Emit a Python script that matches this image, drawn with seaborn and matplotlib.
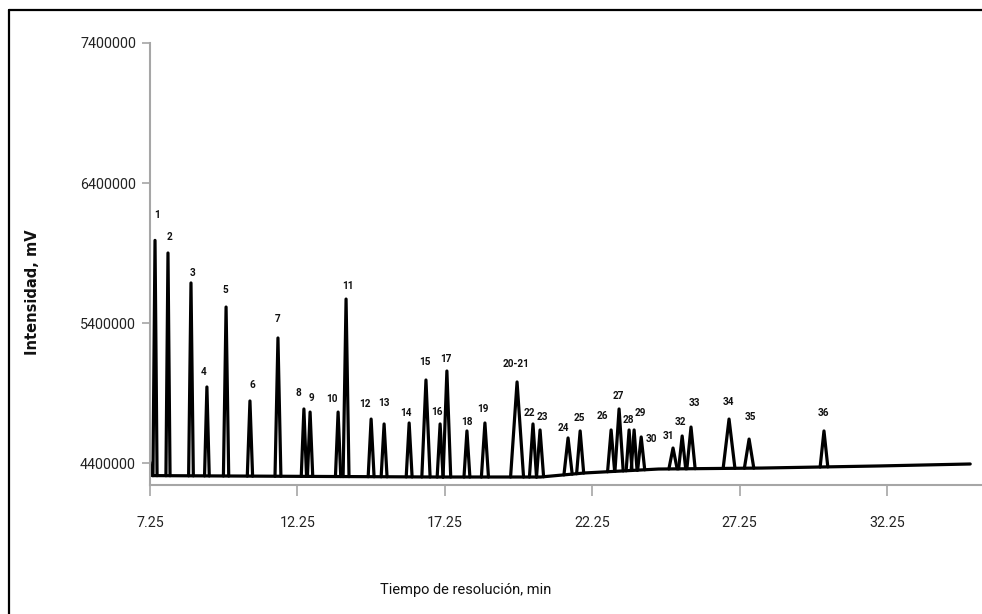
import numpy as np
import pandas as pd
import seaborn as sns
import matplotlib.pyplot as plt
from matplotlib.lines import Line2D

# peaks: label, retention time (min), apex (mV), half base width (min)
peak_labels = ['1', '2', '3', '4', '5', '6', '7', '8', '9', '10', '11', '12', '13', '14',
               '15', '16', '17', '18', '19', '20-21', '22', '23', '24', '25', '26', '27',
               '28', '29', '30', '31', '32', '33', '34', '35', '36']
peak_times = [7.42, 7.86, 8.64, 9.18, 9.83, 10.64, 11.59, 12.47, 12.68, 13.63, 13.90, 14.75,
              15.19, 16.04, 16.61, 17.09, 17.32, 18.00, 18.61, 19.70, 20.24, 20.48, 21.43,
              21.84, 22.89, 23.16, 23.50, 23.67, 23.91, 24.99, 25.30, 25.60, 26.89, 27.57, 30.11]
peak_heights = [5990000, 5900000, 5686000, 4943000, 5514000, 4843000, 5293000, 4786000,
                4764000, 4764000, 5571000, 4714000, 4679000, 4686000, 4993000, 4679000,
                5057000, 4629000, 4686000, 4979000, 4679000, 4636000, 4579000, 4629000,
                4636000, 4786000, 4636000, 4636000, 4586000, 4507000, 4593000, 4657000,
                4714000, 4571000, 4629000]
peak_halfwidths = [0.07, 0.07, 0.08, 0.08, 0.09, 0.09, 0.10, 0.09, 0.09, 0.09, 0.10, 0.10,
                   0.10, 0.10, 0.14, 0.10, 0.13, 0.10, 0.12, 0.22, 0.12, 0.12, 0.14, 0.12,
                   0.12, 0.14, 0.10, 0.10, 0.12, 0.14, 0.12, 0.14, 0.20, 0.16, 0.13]

# drifting baseline of the trace
baseline_times = [7.25, 7.32, 12.0, 17.0, 20.5, 22.0, 24.5, 28.0, 32.0, 35.07]
baseline_values = [4405000, 4310000, 4305000, 4300000, 4300000, 4329000, 4357000,
                   4364000, 4379000, 4393000]

x_ticks = [7.25, 12.25, 17.25, 22.25, 27.25, 32.25]
x_ticklabels = ['7.25', '12.25', '17.25', '22.25', '27.25', '32.25']
y_ticks = [4400000, 5400000, 6400000, 7400000]
y_ticklabels = ['4400000', '5400000', '6400000', '7400000']

# label placement relative to each apex, in pixels
label_offsets = [(2, 25), (2, 16), (2, 10), (-3, 15), (-1, 17), (2, 16), (0, 19), (-6, 16),
                 (1, 14), (-6, 13), (2, 13), (-6, 15), (0, 21), (-3, 10), (-1, 18), (-3, 12),
                 (-1, 12), (0, 9), (-2, 14), (-1, 18), (-4, 11), (2, 13), (-5, 10), (-1, 13),
                 (-9, 14), (-1, 13), (-1, 10), (6, 17), (10, -2), (-5, 12), (-2, 14), (3, 24),
                 (-1, 17), (1, 22), (-1, 18)]

# build the trace: baseline + one triangle per peak
rows = [{'t': t, 'v': v, 'unit': 'base'} for t, v in zip(baseline_times, baseline_values)]
for lab, t, h, w in zip(peak_labels, peak_times, peak_heights, peak_halfwidths):
    for tt, vv in [(t - w, np.interp(t - w, baseline_times, baseline_values)),
                   (t, h),
                   (t + w, np.interp(t + w, baseline_times, baseline_values))]:
        rows.append({'t': tt, 'v': vv, 'unit': lab})
trace = pd.DataFrame(rows)

sns.set_style('white')
plt.rcParams['font.family'] = ['Roboto', 'DejaVu Sans']

fig = plt.figure(figsize=(9.82, 6.14), dpi=100)
ax = fig.add_axes([150 / 982, 129 / 614, 832 / 982, 442 / 614])

sns.lineplot(data=trace, x='t', y='v', units='unit', estimator=None, sort=False,
             color='black', lw=2.3, legend=False, ax=ax)

for lab, t, h, (dx, dy) in zip(peak_labels, peak_times, peak_heights, label_offsets):
    ax.annotate(lab, (t, h), xytext=(dx, dy), textcoords='offset pixels',
                ha='center', va='center', fontsize=7.2, fontweight='bold', color='#111111')

ax.set_xlim(7.25, 35.47)
ax.set_ylim(4242900, 7400000)
ax.set_xticks(x_ticks)
ax.set_xticklabels(x_ticklabels)
ax.set_yticks(y_ticks)
ax.set_yticklabels(y_ticklabels)

axis_grey = '#a6a6a6'
ax.spines[['top', 'right']].set_visible(False)
for s in ['left', 'bottom']:
    ax.spines[s].set_color(axis_grey)
    ax.spines[s].set_linewidth(1.5)
ax.tick_params(axis='x', direction='out', length=8, width=1.2, color=axis_grey,
               pad=14, labelsize=10.3, labelcolor='#222222', bottom=True)
ax.tick_params(axis='y', direction='out', length=6, width=1.2, color=axis_grey,
               pad=4, labelsize=10.3, labelcolor='#222222', left=True)

ax.set_xlabel('Tiempo de resolución, min', fontsize=10.5, color='#111111')
ax.xaxis.set_label_coords(0.379, -0.222)
ax.set_ylabel('Intensidad, mV', fontsize=10.5, fontweight='bold', color='#111111',
              family=['DejaVu Sans'])
ax.yaxis.set_label_coords(-0.132, 0.437)

# outer chart frame (cut at right and bottom)
fig.add_artist(Line2D([9 / 982, 9 / 982], [0, 1 - 10 / 614], color='black', lw=1.6,
                      transform=fig.transFigure))
fig.add_artist(Line2D([9 / 982, 1], [1 - 10 / 614, 1 - 10 / 614], color='black', lw=1.6,
                      transform=fig.transFigure))

fig.savefig('out.png', dpi=100)
